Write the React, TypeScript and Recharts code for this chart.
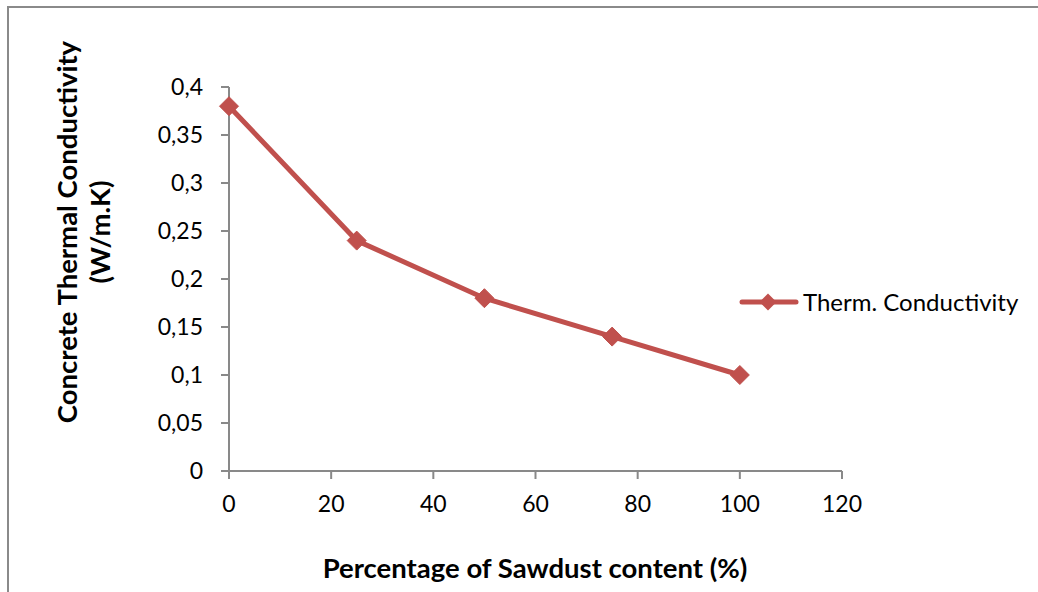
import React from 'react';
import { LineChart, Line, XAxis, YAxis, Label } from 'recharts';

const sawdust = [0, 25, 50, 75, 100];
const conductivity = [0.38, 0.24, 0.18, 0.14, 0.1];
const xTicks = [0, 20, 40, 60, 80, 100, 120];
const yTicks = [0, 0.05, 0.1, 0.15, 0.2, 0.25, 0.3, 0.35, 0.4];
const seriesName = 'Therm. Conductivity';
const xTitle = 'Percentage of Sawdust content (%)';
const yTitleLines = ['Concrete Thermal Conductivity', '(W/m.K)'];

const data = sawdust.map((x, i) => ({ x, y: conductivity[i] }));

const FONT = 'Lato, "Open Sans", sans-serif';
const RED = '#C0504D';
const AXIS = '#898989';
const TITLE_SIZE = 27.5;

const fmt = (v: number) => String(v).replace('.', ',');

const Diamond = (props: any) => {
  const { cx, cy } = props;
  if (cx == null || cy == null) return null;
  const r = 9.5;
  return (
    <path
      d={`M${cx},${cy - r} L${cx + r},${cy} L${cx},${cy + r} L${cx - r},${cy} Z`}
      fill={RED}
      stroke={RED}
      strokeWidth={1}
    />
  );
};

const YTitle = () => {
  const cy = 232;
  const x1 = 77;
  const x2 = 110;
  return (
    <g>
      <text x={x1} y={cy} transform={`rotate(-90, ${x1}, ${cy})`} textAnchor="middle" fontFamily={FONT} fontWeight="bold" fontSize={TITLE_SIZE} fill="#000">
        {yTitleLines[0]}
      </text>
      <text x={x2} y={cy} transform={`rotate(-90, ${x2}, ${cy})`} textAnchor="middle" fontFamily={FONT} fontWeight="bold" fontSize={TITLE_SIZE} fill="#000">
        {yTitleLines[1]}
      </text>
    </g>
  );
};

const XTitle = () => (
  <text x={535} y={578} textAnchor="middle" fontFamily={FONT} fontWeight="bold" fontSize={TITLE_SIZE} fill="#000">
    {xTitle}
  </text>
);

export default function App() {
  return (
    <div style={{ position: 'absolute', left: 0, top: 0, width: 1038, height: 592, background: '#fff', overflow: 'hidden' }}>
      <div
        style={{
          position: 'absolute',
          left: 7,
          top: 6,
          width: 1040,
          height: 600,
          borderTop: '2px solid #8a8a8a',
          borderLeft: '2px solid #8a8a8a',
        }}
      />
      <div style={{ position: 'absolute', left: 0, top: 0 }}>
        <LineChart width={1038} height={592} data={data} margin={{ top: 87, left: 149, right: 196, bottom: 41 }}>
          <XAxis
            dataKey="x"
            type="number"
            domain={[0, 120]}
            ticks={xTicks}
            height={80}
            stroke={AXIS}
            strokeWidth={2}
            tickSize={8}
            tickMargin={17}
            tick={{ fill: '#000', fontSize: 23, fontFamily: FONT }}
            tickLine={{ stroke: AXIS, strokeWidth: 2 }}
            interval={0}
          >
            <Label content={<XTitle />} />
          </XAxis>
          <YAxis
            type="number"
            domain={[0, 0.4]}
            ticks={yTicks}
            width={80}
            stroke={AXIS}
            strokeWidth={2}
            tickSize={8}
            tickMargin={18}
            tickFormatter={fmt}
            tick={{ fill: '#000', fontSize: 23, fontFamily: FONT }}
            tickLine={{ stroke: AXIS, strokeWidth: 2 }}
            interval={0}
          >
            <Label content={<YTitle />} />
          </YAxis>
          <Line
            type="linear"
            dataKey="y"
            name={seriesName}
            stroke={RED}
            strokeWidth={5}
            dot={<Diamond />}
            activeDot={false}
            isAnimationActive={false}
          />
        </LineChart>
      </div>
      <div style={{ position: 'absolute', left: 739, top: 287, display: 'flex', alignItems: 'center', fontFamily: FONT, fontSize: 24, color: '#000', whiteSpace: 'nowrap' }}>
        <svg width={60} height={28} style={{ display: 'block' }}>
          <line x1={3} y1={14} x2={57} y2={14} stroke={RED} strokeWidth={5} strokeLinecap="round" />
          <path d="M29,5.5 L37.5,14 L29,22.5 L20.5,14 Z" fill={RED} />
        </svg>
        <span style={{ marginLeft: 4 }}>{seriesName}</span>
      </div>
    </div>
  );
}
